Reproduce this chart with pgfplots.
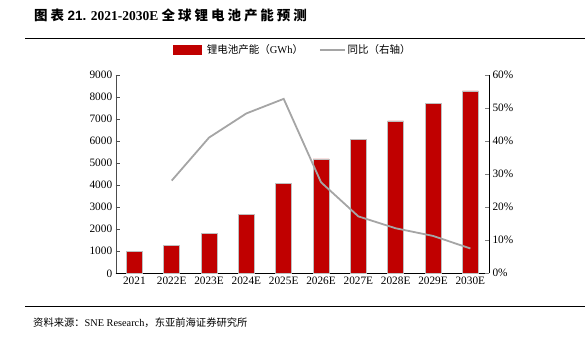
\documentclass[border=0pt]{standalone}
\usepackage{pgfplots}
\pgfplotsset{compat=1.18}
\usepackage{fontspec}
\setmainfont{Liberation Serif}
\newfontfamily\cjk{Noto Sans CJK SC}
\newfontfamily\cjkt{Noto Sans CJK SC}[LetterSpace=22]
\newfontfamily\sans{Liberation Sans}
\definecolor{barred}{HTML}{C00000}
\definecolor{linegray}{HTML}{A5A5A5}
\begin{document}
\begin{tikzpicture}[x=1pt,y=1pt]
\path[use as bounding box] (0,0) rectangle (585,338);
\node[anchor=west, inner sep=0pt, font=\fontsize{13.5}{16}\selectfont] at (34,322.5)
  {{\cjkt\bfseries 图表} {\sans\bfseries 21.} \textbf{2021-2030E} {\cjkt\bfseries 全球锂电池产能预测}};
\draw[line width=1.5pt] (25,299.5) -- (585,299.5);
\draw[line width=1.2pt] (25,31.3) -- (585,31.3);
\node[anchor=west, inner sep=0pt, font=\fontsize{10.3}{12}\selectfont] at (33,15.5)
  {{\cjk 资料来源：}SNE Research{\cjk ，东亚前海证券研究所}};
\begin{axis}[
  at={(115.7pt,64.7pt)}, anchor=south west, scale only axis,
  width=373.3pt, height=198.6pt,
  xmin=-0.5, xmax=9.5, ymin=0, ymax=9000,
  axis y line*=left, axis x line*=bottom,
  axis line style={-},
  y axis line style={black!70},
  xtick={0,...,9},
  xticklabels={2021,2022E,2023E,2024E,2025E,2026E,2027E,2028E,2029E,2030E},
  ytick={0,1000,...,9000},
  scaled y ticks=false,
  yticklabel style={/pgf/number format/1000 sep={}},
  /pgf/number format/assume math mode=true,
  tick align=inside, major tick length=4pt,
  x tick style={draw=none},
  y tick style={black!70},
  ticklabel style={font=\fontsize{11.3}{13}\selectfont},
  legend columns=2,
  legend style={at={(0.475,1.124)}, anchor=center, draw=none, fill=none,
    font=\fontsize{10.5}{12}\selectfont,
    /tikz/every even column/.append style={column sep=14pt}},
  legend cell align=left,
]
\addplot[ybar, bar width=16pt, fill=barred, draw=black!25, line width=0.5pt,
  legend image code/.code={\fill[barred] (0pt,-4.5pt) rectangle (28pt,4.5pt); \path (31pt,0pt);}]
  coordinates {(0,1010)(1,1280)(2,1810)(3,2670)(4,4080)(5,5190)(6,6070)(7,6910)(8,7700)(9,8270)};
\addlegendentry{{\cjk 锂电池产能（}GWh{\cjk ）}}
\addlegendimage{legend image code/.code={\draw[linegray, line width=1.5pt] (0pt,0pt) -- (25pt,0pt);}}
\addlegendentry{{\cjk 同比（右轴）}}
\end{axis}
\begin{axis}[
  at={(115.7pt,64.7pt)}, anchor=south west, scale only axis,
  width=373.3pt, height=198.6pt,
  xmin=-0.5, xmax=9.5, ymin=0, ymax=60,
  axis y line*=right, axis x line=none,
  axis line style={-},
  ytick={0,10,...,60},
  yticklabel={\pgfmathprintnumber{\tick}\%},
  /pgf/number format/assume math mode=true,
  tick align=inside, major tick length=4pt,
  ticklabel style={font=\fontsize{11.3}{13}\selectfont},
]
\addplot[linegray, line width=1.8pt] coordinates {(1,28.0)(2,41.0)(3,48.3)(4,52.7)(5,27.5)(6,17.2)(7,13.6)(8,11.3)(9,7.5)};
\end{axis}
\end{tikzpicture}
\end{document}
